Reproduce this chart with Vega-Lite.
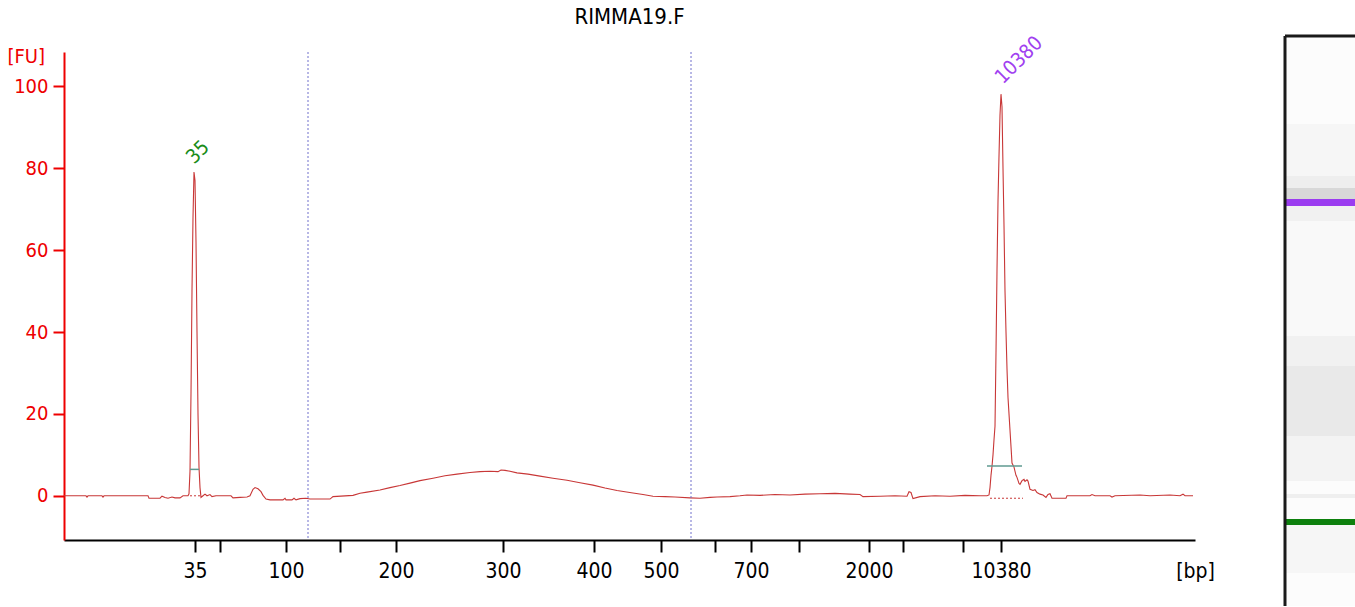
{
  "$schema": "https://vega.github.io/schema/vega-lite/v6.json",
  "padding": {"left": 7, "top": 5, "right": 0, "bottom": 0},
  "background": "white",
  "spacing": 68,
  "resolve": {"scale": {"color": "independent"}},
  "config": {"view": {"stroke": null}, "font": "DejaVu Sans Condensed, Liberation Sans", "axis": {"grid": false}},
  "datasets": {
    "trace": [
      {"t":0,"fu":0},{"t":22,"fu":0},{"t":23,"fu":-0.3},{"t":24,"fu":0},{"t":38,"fu":0},{"t":39,"fu":-0.3},{"t":40,"fu":0},
      {"t":84,"fu":0},{"t":85,"fu":-0.6},{"t":96,"fu":-0.6},{"t":98,"fu":-0.1},{"t":101,"fu":-0.4},{"t":104,"fu":-0.6},{"t":108,"fu":-0.3},
      {"t":111,"fu":-0.5},{"t":116,"fu":-0.5},{"t":119,"fu":0},{"t":124,"fu":0},{"t":125,"fu":0.5},{"t":126,"fu":6},{"t":127,"fu":25},
      {"t":128,"fu":50},{"t":129,"fu":68},{"t":130,"fu":79.1},{"t":131,"fu":77},{"t":132,"fu":62},{"t":133,"fu":40},{"t":134,"fu":20},
      {"t":135,"fu":7},{"t":136,"fu":2},{"t":137,"fu":-0.4},{"t":139,"fu":0},{"t":141,"fu":0.4},{"t":143,"fu":0},{"t":146,"fu":0.3},
      {"t":148,"fu":-0.2},{"t":152,"fu":0},{"t":167,"fu":0},{"t":169,"fu":-0.5},{"t":176,"fu":-0.4},{"t":183,"fu":-0.3},{"t":186,"fu":0},
      {"t":189,"fu":1.6},{"t":191,"fu":2.0},{"t":194,"fu":1.7},{"t":197,"fu":1.0},{"t":199,"fu":0.1},{"t":202,"fu":-0.8},{"t":206,"fu":-1.0},
      {"t":219,"fu":-1.0},{"t":221,"fu":-0.6},{"t":222,"fu":-1.0},{"t":228,"fu":-1.0},{"t":230,"fu":-0.6},{"t":232,"fu":-1.0},{"t":236,"fu":-0.7},
      {"t":242,"fu":-0.6},{"t":246,"fu":-0.8},{"t":266,"fu":-0.8},{"t":269,"fu":-0.2},{"t":289,"fu":0.1},{"t":296,"fu":0.6},{"t":303,"fu":0.9},
      {"t":316,"fu":1.4},{"t":326,"fu":2.0},{"t":336,"fu":2.5},{"t":346,"fu":3.1},{"t":356,"fu":3.7},{"t":369,"fu":4.3},{"t":381,"fu":4.9},
      {"t":393,"fu":5.3},{"t":406,"fu":5.7},{"t":416,"fu":5.9},{"t":426,"fu":6.0},{"t":434,"fu":5.9},{"t":437,"fu":6.3},{"t":441,"fu":6.2},
      {"t":446,"fu":6.0},{"t":453,"fu":5.6},{"t":464,"fu":5.3},{"t":476,"fu":4.8},{"t":489,"fu":4.3},{"t":503,"fu":3.8},{"t":516,"fu":3.2},
      {"t":529,"fu":2.6},{"t":541,"fu":1.9},{"t":553,"fu":1.3},{"t":561,"fu":1.0},{"t":569,"fu":0.7},{"t":579,"fu":0.3},{"t":589,"fu":-0.1},
      {"t":601,"fu":-0.2},{"t":611,"fu":-0.3},{"t":626,"fu":-0.5},{"t":636,"fu":-0.6},{"t":646,"fu":-0.4},{"t":653,"fu":-0.3},{"t":666,"fu":-0.2},
      {"t":676,"fu":0},{"t":683,"fu":0.2},{"t":696,"fu":0.1},{"t":711,"fu":0.3},{"t":726,"fu":0.2},{"t":741,"fu":0.4},{"t":756,"fu":0.5},
      {"t":771,"fu":0.6},{"t":786,"fu":0.4},{"t":796,"fu":0.3},{"t":799,"fu":-0.2},{"t":816,"fu":-0.1},{"t":831,"fu":0},{"t":843,"fu":-0.1},
      {"t":845,"fu":1.0},{"t":847,"fu":0.8},{"t":849,"fu":-0.7},{"t":856,"fu":-0.2},{"t":871,"fu":0},{"t":886,"fu":-0.1},{"t":901,"fu":0.1},
      {"t":916,"fu":0},{"t":923,"fu":0},{"t":925,"fu":0.2},{"t":926,"fu":2},{"t":927,"fu":5},{"t":928,"fu":7.2},{"t":929,"fu":10},
      {"t":930,"fu":13.7},{"t":931,"fu":17},{"t":932,"fu":35},{"t":933,"fu":55},{"t":934,"fu":72},{"t":935,"fu":83},{"t":936,"fu":93},
      {"t":937,"fu":98.1},{"t":938,"fu":95},{"t":939,"fu":80},{"t":940,"fu":66},{"t":941,"fu":50},{"t":942,"fu":40},{"t":943,"fu":31},
      {"t":944,"fu":24},{"t":945,"fu":20},{"t":946,"fu":16},{"t":947,"fu":12},{"t":948,"fu":8},{"t":950,"fu":7.0},{"t":952,"fu":5},
      {"t":953,"fu":4.5},{"t":955,"fu":3.0},{"t":956,"fu":2.8},{"t":958,"fu":3.7},{"t":960,"fu":4.0},{"t":961,"fu":3.5},{"t":963,"fu":3.9},
      {"t":964,"fu":3.6},{"t":966,"fu":1.6},{"t":969,"fu":1.3},{"t":971,"fu":1.5},{"t":973,"fu":0.8},{"t":976,"fu":0.4},{"t":979,"fu":0.2},
      {"t":982,"fu":-0.4},{"t":984,"fu":0.3},{"t":986,"fu":0.5},{"t":988,"fu":-0.6},{"t":1002,"fu":-0.6},{"t":1003,"fu":0},{"t":1026,"fu":0},
      {"t":1028,"fu":0.3},{"t":1031,"fu":0},{"t":1046,"fu":0},{"t":1048,"fu":-0.3},{"t":1051,"fu":0},{"t":1076,"fu":0.2},{"t":1086,"fu":0},
      {"t":1106,"fu":0.2},{"t":1116,"fu":0},{"t":1119,"fu":0.4},{"t":1121,"fu":0},{"t":1129,"fu":0}
    ],
    "gel": [
      {"zone":"bg","y0":2,"y1":570},
      {"zone":"z118","y0":88,"y1":140},
      {"zone":"z140","y0":140,"y1":152},
      {"zone":"z152","y0":152,"y1":163},
      {"zone":"upper","y0":163,"y1":170},
      {"zone":"z170","y0":170,"y1":185},
      {"zone":"z185","y0":185,"y1":300},
      {"zone":"z300","y0":300,"y1":330},
      {"zone":"z330","y0":330,"y1":400},
      {"zone":"z400","y0":400,"y1":445},
      {"zone":"z458","y0":458,"y1":462},
      {"zone":"lower","y0":483,"y1":489},
      {"zone":"z489","y0":489,"y1":537}
    ]
  },
  "hconcat": [
    {
      "width": 1131,
      "height": 488,
      "title": {"text": "RIMMA19.F", "fontSize": 22, "fontWeight": "normal", "color": "black", "anchor": "middle", "baseline": "bottom", "offset": -18},
      "encoding": {
        "x": {"field": "t", "type": "quantitative",
          "scale": {"domain": [0, 1131], "nice": false, "zero": false},
          "axis": {
            "values": [131,156,222,276,332,439,530,597,651,687,735,805,839,899,937],
            "labelExpr": "datum.value == 131 ? '35' : datum.value == 222 ? '100' : datum.value == 332 ? '200' : datum.value == 439 ? '300' : datum.value == 530 ? '400' : datum.value == 597 ? '500' : datum.value == 687 ? '700' : datum.value == 805 ? '2000' : datum.value == 937 ? '10380' : ''",
            "domainColor": "black", "domainWidth": 2, "tickColor": "black", "tickWidth": 2, "tickSize": 12,
            "labelFontSize": 21, "labelColor": "black", "labelPadding": 8, "labelFlush": false, "labelOverlap": false,
            "title": "[bp]", "titleFontSize": 21, "titleFontWeight": "normal", "titleColor": "black",
            "titleX": 1131, "titleY": 31, "titleAlign": "center", "titleBaseline": "middle"
          }
        }
      },
      "layer": [
        {
          "data": {"name": "trace"},
          "mark": {"type": "line", "color": "#c83737", "strokeWidth": 1.1},
          "encoding": {
            "y": {"field": "fu", "type": "quantitative",
              "scale": {"domain": [-10.8, 108.4], "nice": false, "zero": false},
              "axis": {
                "values": [0,20,40,60,80,100],
                "domainColor": "#ee0000", "domainWidth": 2, "tickColor": "#ee0000", "tickWidth": 2, "tickSize": 11,
                "labelFontSize": 20, "labelColor": "#ee0000", "labelPadding": 5,
                "title": "[FU]", "titleAngle": 0, "titleFontSize": 20, "titleFontWeight": "normal", "titleColor": "#ee0000",
                "titleX": -57, "titleY": 4, "titleAlign": "left", "titleBaseline": "middle"
              }
            }
          }
        },
        {
          "data": {"values": [{"t": 244}, {"t": 627}]},
          "mark": {"type": "rule", "color": "#7070cc", "strokeWidth": 1, "strokeDash": [2, 2]},
          "encoding": {}
        },
        {
          "data": {"values": [{"t": 126, "t2": 135, "fu": 6.45}, {"t": 923, "t2": 958, "fu": 7.3}]},
          "mark": {"type": "rule", "color": "#5f9a90", "strokeWidth": 1.5},
          "encoding": {
            "x2": {"field": "t2"},
            "y": {"field": "fu", "type": "quantitative"}
          }
        },
        {
          "data": {"values": [{"t": 126, "t2": 136, "fu": 0}, {"t": 926, "t2": 959, "fu": -0.6}]},
          "mark": {"type": "rule", "color": "#c83737", "strokeWidth": 1, "strokeDash": [2, 2]},
          "encoding": {
            "x2": {"field": "t2"},
            "y": {"field": "fu", "type": "quantitative"}
          }
        },
        {
          "data": {"values": [{"t": 134, "fu": 83.9, "label": "35", "kind": "lower"}, {"t": 955, "fu": 106.4, "label": "10380", "kind": "upper"}]},
          "mark": {"type": "text", "angle": 315, "fontSize": 20, "align": "center", "baseline": "middle"},
          "encoding": {
            "y": {"field": "fu", "type": "quantitative"},
            "text": {"field": "label"},
            "color": {"field": "kind", "type": "nominal", "scale": {"domain": ["lower", "upper"], "range": ["#1a8c1a", "#a040f0"]}, "legend": null}
          }
        }
      ]
    },
    {
      "width": 71,
      "height": 554,
      "layer": [
        {
          "data": {"name": "gel"},
          "mark": {"type": "rect"},
          "encoding": {
            "y": {"field": "y0", "type": "quantitative", "scale": {"domain": [16, 570], "nice": false, "zero": false, "reverse": true}, "axis": null},
            "y2": {"field": "y1"},
            "color": {"field": "zone", "type": "nominal",
              "scale": {"domain": ["bg","z118","z140","z152","upper","z170","z185","z300","z330","z400","z458","lower","z489"],
                        "range": ["#fcfcfc","#f6f6f6","#eeeeee","#d8d8d8","#9b3cf0","#f1f1f1","#f9f9f9","#f1f1f1","#e9e9e9","#f3f3f3","#efefef","#0d800d","#f6f6f6"]},
              "legend": null}
          }
        },
        {
          "data": {"values": [{"edge": 0, "y0": 0, "y1": 570}]},
          "mark": {"type": "rule", "color": "#1a1a1a", "strokeWidth": 3},
          "encoding": {
            "x": {"field": "edge", "type": "quantitative", "scale": {"domain": [0, 1], "nice": false, "zero": false}, "axis": null},
            "y": {"field": "y0", "type": "quantitative"},
            "y2": {"field": "y1"}
          }
        },
        {
          "data": {"values": [{"edge": 0, "y0": 0, "e2": 1}]},
          "mark": {"type": "rule", "color": "#1a1a1a", "strokeWidth": 3},
          "encoding": {
            "x": {"field": "edge", "type": "quantitative"},
            "x2": {"field": "e2"},
            "y": {"field": "y0", "type": "quantitative"}
          }
        }
      ]
    }
  ]
}
